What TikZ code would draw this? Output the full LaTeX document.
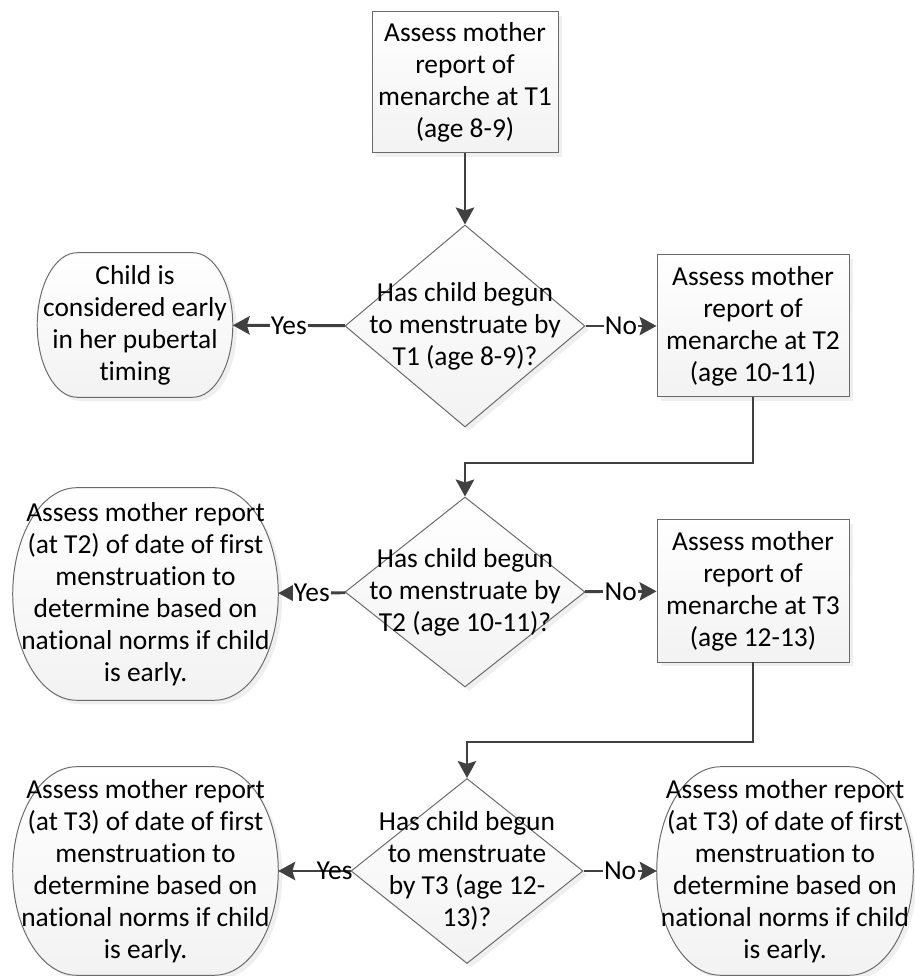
\documentclass[tikz,border=0pt]{standalone}
\usepackage{fontspec}
\setmainfont{Carlito}[Ligatures=NoCommon]
\usepackage{tikz}
\usetikzlibrary{shapes.geometric, arrows.meta, positioning, shadows, calc, backgrounds}

\definecolor{lineclr}{HTML}{404040}
\definecolor{edgeclr}{HTML}{6A6A6A}

% outline with elliptic ends round a named node: #1 node, #2 end radius
\newcommand{\termoutline}[2]{%
  \path[termline] let \p1=(#1.north west), \p2=(#1.south east), \n1={(\y1-\y2)/2} in
    (\x1+#2,\y1) -- (\x2-#2,\y1) arc[start angle=90, end angle=-90, x radius=#2, y radius=\n1]
    -- (\x1+#2,\y2) arc[start angle=270, end angle=90, x radius=#2, y radius=\n1] -- cycle;}

\begin{document}
\begin{tikzpicture}[
        font=\fontsize{19.5}{22.8}\selectfont,
        shade/.style={top color=white, bottom color=black!5, draw=edgeclr, line width=0.7pt,
            drop shadow={shadow xshift=0.1cm, shadow yshift=-0.1cm, fill=black!12}},
        assessbox/.style={rectangle, shade, inner sep=0pt, align=center},
        askbox/.style={diamond, shade, inner sep=0pt},
        asktext/.style={align=center, inner sep=0pt},
        termbox/.style={rectangle, inner sep=0pt, align=center},
        termline/.style={shade},
        choice/.style={fill=white, inner sep=1pt},
        arrowline/.style={-{Stealth[length=12pt, width=13pt, inset=2pt]}, line width=2.1pt, draw=lineclr}
    ]
        \useasboundingbox (0,0) rectangle (22.85,24.4);

        \node[assessbox, minimum width=4.65cm, minimum height=3.525cm] (assessA) at (11.625,22.34) {Assess mother\\report of\\menarche at T1\\(age 8-9)};
        \node[askbox, minimum width=6cm, minimum height=5.05cm,
            label={[asktext]center:Has child begun\\to menstruate by\\T1 (age 8-9)?}] (askA) at (11.625,16.25) {};
        \node[termbox, minimum width=4.875cm, minimum height=3.6cm] (earlyA) at (3.375,16.275) {Child is\\considered early\\in her pubertal\\timing};
        \node[assessbox, minimum width=4.8cm, minimum height=3.55cm] (assessB) at (18.825,16.25) {Assess mother\\report of\\menarche at T2\\(age 10-11)};

        \node[askbox, minimum width=6cm, minimum height=4.75cm,
            label={[asktext]center:Has child begun\\to menstruate by\\T2 (age 10-11)?}] (askB) at (11.625,9.6) {};
        \node[termbox, minimum width=6.625cm, minimum height=5.3cm] (earlyB) at (3.6375,9.55) {Assess mother report\\(at T2) of date of first\\menstruation to\\determine based on\\national norms if child\\is early.};
        \node[assessbox, minimum width=4.8cm, minimum height=3.55cm] (assessC) at (18.825,9.625) {Assess mother\\report of\\menarche at T3\\(age 12-13)};

        \node[askbox, minimum width=5.8cm, minimum height=4.625cm,
            label={[asktext]center:Has child begun\\to menstruate\\by T3 (age 12-\\13)?}] (askC) at (11.675,2.625) {};
        \node[termbox, minimum width=6.625cm, minimum height=5.2cm] (earlyC) at (3.6375,2.625) {Assess mother report\\(at T3) of date of first\\menstruation to\\determine based on\\national norms if child\\is early.};
        \node[termbox, minimum width=6.4cm, minimum height=5.2cm] (lateC) at (19.625,2.625) {Assess mother report\\(at T3) of date of first\\menstruation to\\determine based on\\national norms if child\\is early.};

        \begin{scope}[on background layer]
            \termoutline{earlyA}{1cm}
            \termoutline{earlyB}{1.6cm}
            \termoutline{earlyC}{1.6cm}
            \termoutline{lateC}{1.6cm}
        \end{scope}

        \coordinate (turnB) at (11.625,12.825);
        \coordinate (turnC) at (11.675,5.85);

        \draw[arrowline] (assessA) -- (askA);
        \draw[arrowline] (askA) -- node[choice] {Yes} (earlyA);
        \draw[arrowline] (askA) -- node[choice] {No} (assessB);
        \draw[arrowline] (assessB.south) |- (turnB) -- (askB.north);
        \draw[arrowline] (askB) -- node[choice] {Yes} (earlyB);
        \draw[arrowline] (askB) -- node[choice] {No} (assessC);
        \draw[arrowline] (assessC.south) |- (turnC) -- (askC.north);
        \draw[arrowline] (askC) -- node[pos=0.22, inner sep=1pt] {Yes} (earlyC);
        \draw[arrowline] (askC) -- node[choice] {No} (lateC);
    \end{tikzpicture}
\end{document}
